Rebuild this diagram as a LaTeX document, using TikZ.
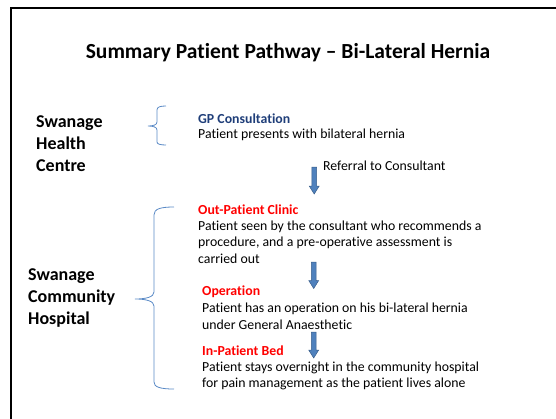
\documentclass[tikz,border=0pt]{standalone}
\usepackage{fontspec}
\setmainfont{Carlito}[Ligatures={NoCommon}]
\definecolor{gpblue}{HTML}{1F3E79}
\definecolor{hred}{HTML}{FF0000}
\definecolor{bracec}{HTML}{5A8AC6}
\definecolor{arrfill}{HTML}{4F81BD}
\definecolor{arrline}{HTML}{385D8A}
\tikzset{
  txt/.style={anchor=base west, inner sep=0pt, font=\fontsize{13.8}{16}\selectfont},
  head/.style={txt, font=\bfseries\fontsize{13.8}{16}\selectfont},
  site/.style={anchor=base west, inner sep=0pt, font=\bfseries\fontsize{18}{20}\selectfont},
  bracestyle/.style={draw=bracec, line width=0.8pt},
  blockarrow/.style={fill=arrfill, draw=arrline, line width=0.5pt, line join=miter},
}
\newcommand{\myblockarrow}[3]{% x, ytop, ybottom
  \path[blockarrow] (#1-2.4,#2) -- (#1+2.4,#2) -- (#1+2.4,#3-8) -- (#1+5,#3-8) -- (#1,#3) -- (#1-5,#3-8) -- (#1-2.4,#3-8) -- cycle;}
\begin{document}
\begin{tikzpicture}[x=1pt,y=-1pt]
\useasboundingbox (0,0) rectangle (556,418);
% frame
\draw[line width=2pt] (11.3,425) -- (11.3,7.5) -- (565,7.5);
% title
\node[anchor=base, inner sep=0pt, font=\bfseries\fontsize{21.5}{24}\selectfont] (title) at (288,58) {Summary Patient Pathway – Bi-Lateral Hernia};
% site labels
\node[site] (s1) at (36,127) {Swanage};
\node[site] (s2) at (36,149) {Health};
\node[site] (s3) at (36,171) {Centre};
\node[site] (h1) at (28,280) {Swanage};
\node[site] (h2) at (28,302) {Community};
\node[site] (h3) at (28,324) {Hospital};
% small brace
\draw[bracestyle] (166,106) .. controls (160,106) and (157,107) .. (157,110) -- (157,122)
  .. controls (157,125) and (153,126) .. (148,126)
  .. controls (153,126) and (157,127) .. (157,130) -- (157,142)
  .. controls (157,144) and (160,145) .. (166,145);
% large brace
\draw[bracestyle] (174,207) .. controls (160,207) and (154,209) .. (154,215) -- (154,292)
  .. controls (154,297) and (146,299) .. (135,299)
  .. controls (146,299) and (154,301) .. (154,306) -- (154,382)
  .. controls (154,387) and (160,389) .. (174,389);
% GP block
\node[head, text=gpblue] (gp) at (198,123) {GP Consultation};
\node[txt] (gpt) at (198,138) {Patient presents with bilateral hernia};
\node[txt] (ref) at (323,170) {Referral to Consultant};
% Out-patient
\node[head, text=hred] (op) at (198,214) {Out-Patient Clinic};
\node[txt] (op1) at (198,230) {Patient seen by the consultant who recommends a};
\node[txt] (op2) at (198,246.5) {procedure, and a pre-operative assessment is};
\node[txt] (op3) at (198,263) {carried out};
% Operation
\node[head, text=hred] (opn) at (202,295.5) {Operation};
\node[txt] (opn1) at (202,312) {Patient has an operation on his bi-lateral hernia};
\node[txt] (opn2) at (202,329) {under General Anaesthetic};
% In-patient
\node[head, text=hred] (ip) at (202,355) {In-Patient Bed};
\node[txt] (ip1) at (202,371) {Patient stays overnight in the community hospital};
\node[txt] (ip2) at (202,387.7) {for pain management as the patient lives alone};
% arrows
\myblockarrow{314.2}{167}{194}
\myblockarrow{313.7}{262}{288.5}
\myblockarrow{313.7}{332}{358}
\end{tikzpicture}
\end{document}
